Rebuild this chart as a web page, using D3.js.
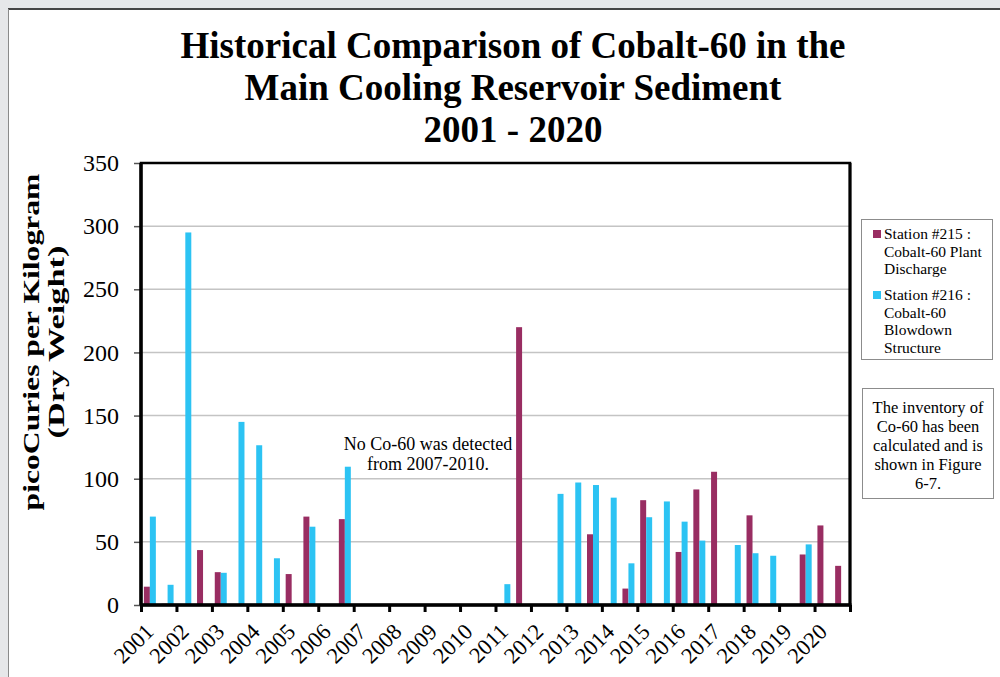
<!DOCTYPE html>
<html>
<head>
<meta charset="utf-8">
<script src="https://cdn.jsdelivr.net/npm/d3@7"></script>
<style>
  html, body { margin: 0; padding: 0; background: #e6e7e9; }
  svg { display: block; font-family: "Liberation Serif", "Times New Roman", serif; }
</style>
</head>
<body>
<svg id="chart" width="1000" height="677"></svg>
<script>
// Sampling years (two sediment samples per year)
const yearLabels = ["2001","2002","2003","2004","2005","2006","2007","2008","2009","2010",
                    "2011","2012","2013","2014","2015","2016","2017","2018","2019","2020"];
const halfYears = ["H1", "H2"];

// Co-60, pCi/kg dry weight; null = no detection
const station215 = [14.5, 1, null, 43.5, 26, null, null, null, 24.5, 70,
                    null, 68, null, null, null, null, null, null, null, null,
                    null, 220, null, null, null, 56, null, 13, 83, null,
                    42, 91.5, 105.5, null, 71, null, null, 40, 63, 31];
const station216 = [70, 16, 295, null, 25.5, 145, 126.5, 37, null, 62,
                    null, 109.5, null, null, null, null, null, null, null, null,
                    16.5, null, null, 88, 97, 95, 85, 33, 69.5, 82,
                    66, 51, null, 47.5, 41, 39, null, 48, null, null];

const yTicks = [0, 50, 100, 150, 200, 250, 300, 350];
const seriesNames = ["Station #215", "Station #216"];
const seriesColors = ["#992d62", "#2cc3f3"];

const periods = yearLabels.flatMap(y => halfYears.map(h => y + " " + h));

const svg = d3.select("#chart");

// page background and sheet edge
svg.append("rect").attr("x", 0).attr("y", 0).attr("width", 1000).attr("height", 677).attr("fill", "#e6e7e9");
svg.append("rect").attr("x", 9).attr("y", 10).attr("width", 991).attr("height", 667).attr("fill", "#ffffff");
svg.append("line").attr("x1", 8).attr("x2", 1000).attr("y1", 9).attr("y2", 9).attr("stroke", "#454545").attr("stroke-width", 2);
svg.append("line").attr("x1", 8.5).attr("x2", 8.5).attr("y1", 9).attr("y2", 677).attr("stroke", "#8a8a8a").attr("stroke-width", 1);

const plot = { left: 141, right: 850, top: 163, bottom: 605 };

const x0 = d3.scaleBand().domain(periods).range([plot.left, plot.right]);
const x1 = d3.scaleBand().domain(seriesNames).range([0, x0.bandwidth()]).paddingOuter(0.48);
const y = d3.scaleLinear().domain([0, 350]).range([plot.bottom, plot.top]);
const xYears = d3.scaleLinear().domain([2001, 2021]).range([plot.left, plot.right]);

// title
const title = svg.append("text")
  .attr("x", 513).attr("text-anchor", "middle")
  .attr("font-weight", "bold").attr("font-size", 37).attr("fill", "#000");
["Historical Comparison of Cobalt-60 in the", "Main Cooling Reservoir Sediment", "2001 - 2020"]
  .forEach((t, i) => title.append("tspan").attr("x", 513).attr("y", 58 + i * 42).text(t));

// gridlines
svg.append("g").selectAll("line")
  .data(yTicks.filter(v => v > 0 && v < 350))
  .join("line")
  .attr("x1", plot.left).attr("x2", plot.right)
  .attr("y1", d => y(d)).attr("y2", d => y(d))
  .attr("stroke", "#c4c4c4").attr("stroke-width", 1.5);

// bars
const bars = svg.append("g");
[station215, station216].forEach((vals, si) => {
  bars.selectAll(null)
    .data(vals.map((v, i) => ({ p: periods[i], v })).filter(d => d.v != null))
    .join("rect")
    .attr("x", d => x0(d.p) + x1(seriesNames[si]))
    .attr("width", x1.bandwidth())
    .attr("y", d => y(d.v))
    .attr("height", d => y(0) - y(d.v))
    .attr("fill", seriesColors[si]);
});

// y axis
const yAxis = svg.append("g")
  .attr("transform", `translate(${plot.left},0)`)
  .call(d3.axisLeft(y).tickValues(yTicks).tickSize(7).tickPadding(15));
yAxis.select(".domain").remove();
yAxis.selectAll(".tick line").attr("stroke", "#555").attr("stroke-width", 1.5);
yAxis.selectAll(".tick text")
  .attr("font-family", "Liberation Serif, Times New Roman, serif")
  .attr("font-size", 24).attr("fill", "#000");

// x axis: ticks at year boundaries
const xAxis = svg.append("g")
  .attr("transform", `translate(0,${plot.bottom})`)
  .call(d3.axisBottom(xYears).tickValues(d3.range(2001, 2022)).tickSize(7).tickFormat(""));
xAxis.select(".domain").remove();
xAxis.selectAll(".tick line").attr("stroke", "#000").attr("stroke-width", 3);

// year labels, centred on the first sample of each year
svg.append("g").selectAll("text")
  .data(yearLabels)
  .join("text")
  .attr("transform", d => `translate(${x0(d + " H1") + x0.bandwidth() / 2 + 5},633) rotate(-45)`)
  .attr("text-anchor", "end")
  .attr("font-size", 22.5).attr("fill", "#000")
  .text(d => d);

// plot frame
svg.append("rect")
  .attr("x", plot.left).attr("y", plot.top)
  .attr("width", plot.right - plot.left).attr("height", plot.bottom - plot.top)
  .attr("fill", "none").attr("stroke", "#000").attr("stroke-width", 2.5);
svg.append("line").attr("x1", plot.right).attr("x2", plot.right)
  .attr("y1", plot.top).attr("y2", plot.bottom).attr("stroke", "#000").attr("stroke-width", 3);
svg.append("line").attr("x1", plot.left).attr("x2", plot.right + 1.5)
  .attr("y1", plot.bottom).attr("y2", plot.bottom).attr("stroke", "#000").attr("stroke-width", 3.5);
svg.append("line").attr("x1", plot.left).attr("x2", plot.left)
  .attr("y1", plot.top).attr("y2", plot.bottom).attr("stroke", "#000").attr("stroke-width", 3.5);

// y axis title: two rotated lines, lettering stretched along the line to a set length
const yTitleLines = [
  { text: "picoCuries per Kilogram", baseX: 38.5, len: 337 },
  { text: "(Dry Weight)", baseX: 63.5, len: 193 }
];
yTitleLines.forEach(l => {
  const t = svg.append("text")
    .attr("text-anchor", "middle").attr("font-weight", "bold").attr("font-size", 24).attr("fill", "#000")
    .text(l.text);
  const natural = t.node().getComputedTextLength();
  t.attr("transform", `translate(${l.baseX},342) rotate(-90) scale(${l.len / natural},1)`);
});

// annotation
const note1 = svg.append("text").attr("text-anchor", "middle").attr("font-size", 18).attr("fill", "#000");
note1.append("tspan").attr("x", 428).attr("y", 450).text("No Co-60 was detected");
note1.append("tspan").attr("x", 428).attr("y", 470).text("from 2007-2010.");

// legend
const legend = svg.append("g");
legend.append("rect").attr("x", 861.5).attr("y", 219.5).attr("width", 131).attr("height", 140)
  .attr("fill", "#fff").attr("stroke", "#8c8c8c").attr("stroke-width", 1);
const legendText = [
  ["Station #215 :", "Cobalt-60 Plant", "Discharge"],
  ["Station #216 :", "Cobalt-60", "Blowdown", "Structure"]
];
const legendTop = [239, 300];
legendText.forEach((lines, i) => {
  legend.append("rect").attr("x", 873).attr("y", legendTop[i] - 9).attr("width", 8).attr("height", 8)
    .attr("fill", seriesColors[i]);
  const t = legend.append("text").attr("font-size", 15.5).attr("fill", "#000");
  lines.forEach((l, j) => t.append("tspan").attr("x", 884).attr("y", legendTop[i] + j * 17.5).text(l));
});

// side note
svg.append("rect").attr("x", 862.5).attr("y", 388.5).attr("width", 131).attr("height", 110)
  .attr("fill", "#fff").attr("stroke", "#8c8c8c").attr("stroke-width", 1);
const side = svg.append("text").attr("text-anchor", "middle").attr("font-size", 16.5).attr("fill", "#000");
["The inventory of", "Co-60 has been", "calculated and is", "shown in Figure", "6-7."]
  .forEach((l, j) => side.append("tspan").attr("x", 928).attr("y", 413 + j * 19).text(l));
</script>
</body>
</html>
